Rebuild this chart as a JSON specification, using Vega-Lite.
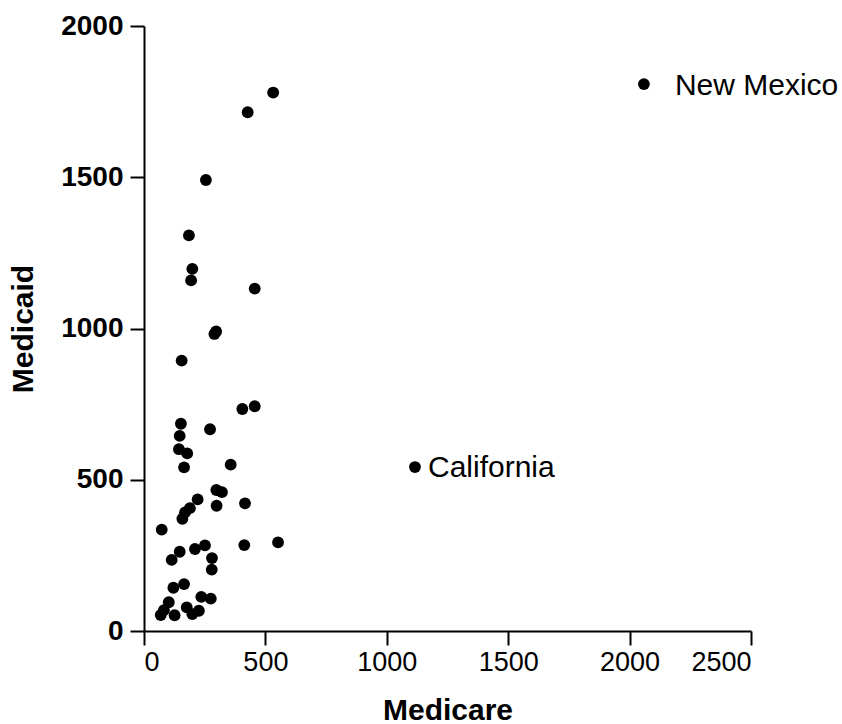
{
  "$schema": "https://vega.github.io/schema/vega-lite/v6.json",
  "width": 607,
  "height": 605,
  "autosize": {"type": "none"},
  "padding": {"left": 144, "top": 26, "right": 91, "bottom": 93},
  "background": "white",
  "config": {
    "view": {"stroke": null},
    "font": "Liberation Sans",
    "axis": {
      "grid": false,
      "domainColor": "black",
      "domainWidth": 2,
      "tickColor": "black",
      "tickWidth": 2,
      "tickSize": 14,
      "labelColor": "black",
      "titleColor": "black",
      "labelFont": "Liberation Sans",
      "titleFont": "Liberation Sans"
    }
  },
  "data": {
    "values": [
      {"medicare": 532, "medicaid": 1780, "state": ""},
      {"medicare": 427, "medicaid": 1715, "state": ""},
      {"medicare": 255, "medicaid": 1491, "state": ""},
      {"medicare": 185, "medicaid": 1308, "state": ""},
      {"medicare": 199, "medicaid": 1197, "state": ""},
      {"medicare": 194, "medicaid": 1159, "state": ""},
      {"medicare": 456, "medicaid": 1132, "state": ""},
      {"medicare": 290, "medicaid": 982, "state": ""},
      {"medicare": 297, "medicaid": 990, "state": ""},
      {"medicare": 155, "medicaid": 894, "state": ""},
      {"medicare": 405, "medicaid": 734, "state": ""},
      {"medicare": 456, "medicaid": 743, "state": ""},
      {"medicare": 152, "medicaid": 685, "state": ""},
      {"medicare": 147, "medicaid": 645, "state": ""},
      {"medicare": 272, "medicaid": 667, "state": ""},
      {"medicare": 144, "medicaid": 601, "state": ""},
      {"medicare": 178, "medicaid": 587, "state": ""},
      {"medicare": 165, "medicaid": 541, "state": ""},
      {"medicare": 357, "medicaid": 550, "state": ""},
      {"medicare": 298, "medicaid": 466, "state": ""},
      {"medicare": 321, "medicaid": 459, "state": ""},
      {"medicare": 221, "medicaid": 435, "state": ""},
      {"medicare": 189, "medicaid": 406, "state": ""},
      {"medicare": 169, "medicaid": 392, "state": ""},
      {"medicare": 158, "medicaid": 371, "state": ""},
      {"medicare": 299, "medicaid": 414, "state": ""},
      {"medicare": 416, "medicaid": 422, "state": ""},
      {"medicare": 73, "medicaid": 335, "state": ""},
      {"medicare": 413, "medicaid": 284, "state": ""},
      {"medicare": 552, "medicaid": 293, "state": ""},
      {"medicare": 251, "medicaid": 283, "state": ""},
      {"medicare": 210, "medicaid": 271, "state": ""},
      {"medicare": 147, "medicaid": 262, "state": ""},
      {"medicare": 114, "medicaid": 235, "state": ""},
      {"medicare": 280, "medicaid": 241, "state": ""},
      {"medicare": 279, "medicaid": 203, "state": ""},
      {"medicare": 165, "medicaid": 155, "state": ""},
      {"medicare": 121, "medicaid": 143, "state": ""},
      {"medicare": 236, "medicaid": 113, "state": ""},
      {"medicare": 275, "medicaid": 107, "state": ""},
      {"medicare": 102, "medicaid": 95, "state": ""},
      {"medicare": 176, "medicaid": 78, "state": ""},
      {"medicare": 226, "medicaid": 67, "state": ""},
      {"medicare": 199, "medicaid": 56, "state": ""},
      {"medicare": 82, "medicaid": 69, "state": ""},
      {"medicare": 69, "medicaid": 53, "state": ""},
      {"medicare": 126, "medicaid": 52, "state": ""},
      {"medicare": 1116, "medicaid": 542, "state": "California"},
      {"medicare": 2059, "medicaid": 1808, "state": "New Mexico"}
    ]
  },
  "encoding": {
    "x": {
      "field": "medicare",
      "type": "quantitative",
      "scale": {"domain": [0, 2500], "nice": false, "zero": true},
      "axis": {
        "title": "Medicare",
        "format": "d",
        "values": [0, 500, 1000, 1500, 2000, 2500],
        "labelFontSize": 27,
        "labelPadding": 4,
        "titleFontSize": 30,
        "titleFontWeight": "bold",
        "titlePadding": 20
      }
    },
    "y": {
      "field": "medicaid",
      "type": "quantitative",
      "scale": {"domain": [0, 2000], "nice": false},
      "axis": {
        "title": "Medicaid",
        "format": "d",
        "values": [0, 500, 1000, 1500, 2000],
        "labelFontSize": 28,
        "labelFontWeight": "bold",
        "labelPadding": 7,
        "titleFontSize": 30,
        "titleFontWeight": "bold",
        "titlePadding": 22
      }
    }
  },
  "layer": [
    {
      "mark": {"type": "point", "filled": true, "shape": "circle", "size": 140, "color": "black", "opacity": 1}
    },
    {
      "transform": [{"filter": "datum.state == 'New Mexico'"}],
      "mark": {"type": "text", "align": "left", "baseline": "middle", "dx": 31, "dy": 2, "fontSize": 30, "color": "black", "font": "Liberation Sans"},
      "encoding": {"text": {"field": "state"}}
    },
    {
      "transform": [{"filter": "datum.state == 'California'"}],
      "mark": {"type": "text", "align": "left", "baseline": "middle", "dx": 13, "dy": 1, "fontSize": 30, "color": "black", "font": "Liberation Sans"},
      "encoding": {"text": {"field": "state"}}
    }
  ]
}
